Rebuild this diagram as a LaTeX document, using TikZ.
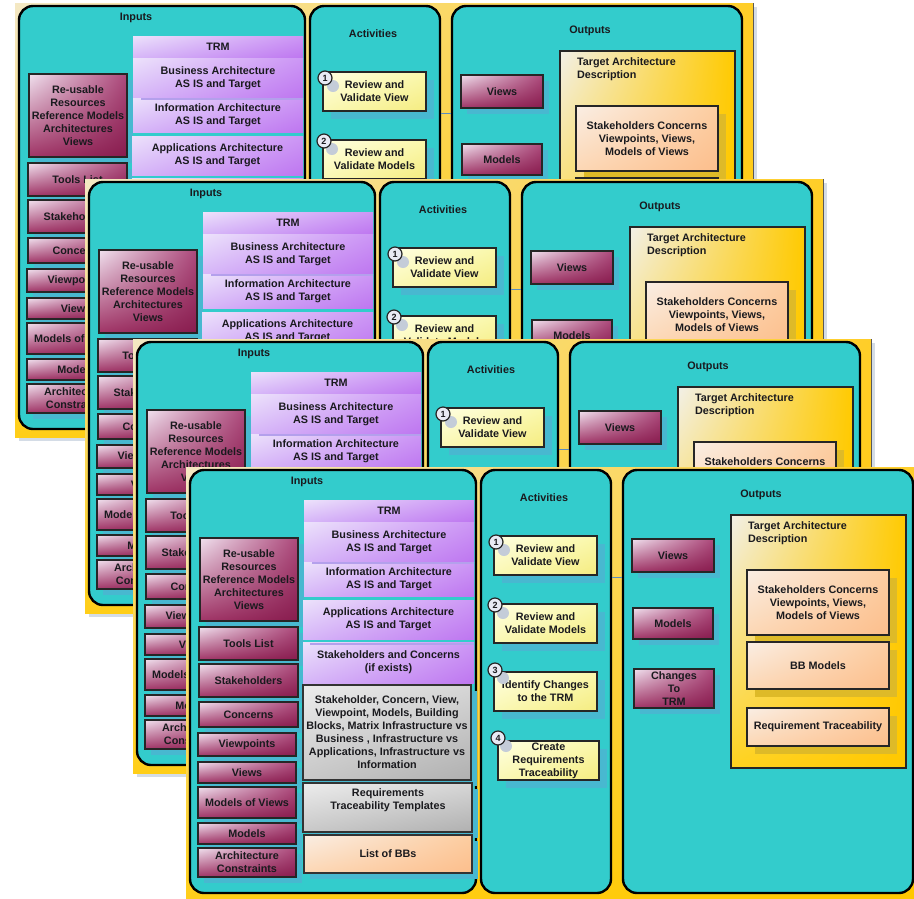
\documentclass[tikz,border=0pt]{standalone}
\usepackage{fontspec}
\setmainfont{Liberation Sans}
\usetikzlibrary{shadows,shadings}
\definecolor{tealbg}{RGB}{51,204,204}
\definecolor{shteal}{RGB}{72,184,208}
\definecolor{shgold}{RGB}{222,186,40}
\definecolor{framesh}{RGB}{212,220,230}
\definecolor{frUL}{RGB}{244,232,196}
\definecolor{frUR}{RGB}{255,206,40}
\definecolor{frLL}{RGB}{255,206,24}
\definecolor{frLR}{RGB}{255,200,0}
\definecolor{magUL}{RGB}{240,225,238}
\definecolor{magUR}{RGB}{172,72,122}
\definecolor{magLL}{RGB}{160,52,102}
\definecolor{magLR}{RGB}{136,28,78}
\definecolor{purUL}{RGB}{236,226,251}
\definecolor{purUR}{RGB}{204,150,245}
\definecolor{purLL}{RGB}{214,182,248}
\definecolor{purLR}{RGB}{190,118,240}
\definecolor{purline}{RGB}{180,160,236}
\definecolor{gryUL}{RGB}{236,236,236}
\definecolor{gryUR}{RGB}{214,214,214}
\definecolor{gryLL}{RGB}{200,200,200}
\definecolor{gryLR}{RGB}{176,176,176}
\definecolor{pchUL}{RGB}{250,238,228}
\definecolor{pchUR}{RGB}{252,205,160}
\definecolor{pchLL}{RGB}{252,215,180}
\definecolor{pchLR}{RGB}{252,190,140}
\definecolor{yelUL}{RGB}{255,255,226}
\definecolor{yelUR}{RGB}{250,248,172}
\definecolor{yelLL}{RGB}{250,248,180}
\definecolor{yelLR}{RGB}{245,236,128}
\definecolor{tadUL}{RGB}{242,240,232}
\definecolor{tadUR}{RGB}{255,202,0}
\definecolor{tadLL}{RGB}{255,210,30}
\definecolor{tadLR}{RGB}{255,200,0}
\definecolor{numfill}{RGB}{232,234,244}
\definecolor{glowc}{RGB}{196,204,216}
\definecolor{linkc}{RGB}{90,140,190}
\definecolor{txtc}{RGB}{26,26,30}
\tikzset{
  txt/.style={font=\fontsize{10.8}{13}\selectfont\bfseries, text=txtc, align=center, inner sep=0pt, outer sep=0pt},
  framebox/.style={inner sep=0pt, outer sep=0pt, upper left=frUL, upper right=frUR, lower left=frLL, lower right=frLR,
     drop shadow={shadow xshift=4pt, shadow yshift=-4pt, fill=framesh, opacity=1}},
  panelbox/.style={inner sep=0pt, outer sep=0pt, draw=black, line width=2.4pt, rounded corners=14pt, fill=tealbg},
  magbox/.style={txt, draw=black!85, line width=1.8pt, upper left=magUL, upper right=magUR, lower left=magLL, lower right=magLR,
     drop shadow={shadow xshift=6pt, shadow yshift=-6pt, fill=shteal, opacity=1}},
  purbox/.style={txt, upper left=purUL, upper right=purUR, lower left=purLL, lower right=purLR},
  graybox/.style={txt, draw=black!80, line width=1.8pt, upper left=gryUL, upper right=gryUR, lower left=gryLL, lower right=gryLR,
     drop shadow={shadow xshift=6pt, shadow yshift=-6pt, fill=shteal, opacity=1}},
  peachbox/.style={txt, draw=black!80, line width=1.8pt, upper left=pchUL, upper right=pchUR, lower left=pchLL, lower right=pchLR,
     drop shadow={shadow xshift=6pt, shadow yshift=-6pt, fill=shteal, opacity=1}},
  peachboxg/.style={txt, draw=black!85, line width=1.8pt, upper left=pchUL, upper right=pchUR, lower left=pchLL, lower right=pchLR,
     drop shadow={shadow xshift=8pt, shadow yshift=-8pt, fill=shgold, opacity=1}},
  yelbox/.style={txt, draw=black!85, line width=1.8pt, upper left=yelUL, upper right=yelUR, lower left=yelLL, lower right=yelLR,
     drop shadow={shadow xshift=8pt, shadow yshift=-8pt, fill=shteal, opacity=1}},
  tadbox/.style={txt, draw=black!85, line width=1.8pt, upper left=tadUL, upper right=tadUR, lower left=tadLL, lower right=tadLR},
  numc/.style={circle, draw=black!85, line width=1.2pt, fill=numfill, minimum size=14pt, inner sep=0pt,
     font=\fontsize{9}{9}\selectfont\bfseries, text=txtc},
  glow/.style={circle, fill=glowc, minimum size=12pt, inner sep=0pt},
  linkline/.style={draw=linkc, line width=0.8pt},
  purshade/.style={draw=purline, line width=2pt}
}
\newcommand{\bx}[7]{%
  \pgfmathsetmacro\bxw{#5-#3}\pgfmathsetmacro\bxh{#6-#4}%
  \pgfmathsetmacro\bxx{(#3+#5)/2}\pgfmathsetmacro\bxy{(#4+#6)/2}%
  \node[#2, minimum width=\bxw pt, minimum height=\bxh pt] (#1) at (\bxx,\bxy) {#7};}
\newcommand{\onepanel}[3]{%
\begin{scope}[shift={(#1,#2)}, name prefix=#3-]
  \bx{frame}{framebox}{186}{467}{924}{901}{}
  \draw[black!65, line width=1pt] (frame.north east) -- (frame.south east);
  \bx{inputs}{panelbox}{190}{470}{476}{893}{}
  \bx{acts}{panelbox}{481}{470}{611}{893}{}
  \bx{outs}{panelbox}{623}{470}{913}{893}{}
  \coordinate (lnA) at (612,577);
  \coordinate (lnB) at (622,577);
  \draw[linkline] (lnA) -- (lnB);
  \node[txt] (inlbl) at (307,482) {Inputs};
  \node[txt] (actlbl) at (544,498) {Activities};
  \node[txt] (outlbl) at (761,495) {Outputs};
  % inputs, left column
  \bx{reuse}{magbox}{200}{538}{298}{621}{Re-usable\\Resources\\Reference Models\\Architectures\\Views}
  \bx{tools}{magbox}{199}{627}{298}{660}{Tools List}
  \bx{stake}{magbox}{199}{664}{298}{697}{Stakeholders}
  \bx{conc}{magbox}{199}{702}{298}{727}{Concerns}
  \bx{vpts}{magbox}{198}{733}{296}{756}{Viewpoints}
  \bx{views}{magbox}{198}{762}{296}{783}{Views}
  \bx{mov}{magbox}{198}{787}{296}{818}{Models of Views}
  \bx{models}{magbox}{198}{823}{296}{844}{Models}
  \bx{archc}{magbox}{198}{848}{296}{877}{Architecture\\Constraints}
  % inputs, TRM column
  \bx{trm}{purbox}{304}{500}{474}{522}{TRM}
  \bx{bus}{purbox}{304}{522}{474}{562}{Business Architecture\\AS IS and Target}
  \bx{info}{purbox}{304}{562}{474}{596}{Information Architecture\\AS IS and Target}
  \coordinate (plA) at (312,563);
  \coordinate (plB) at (474,563);
  \draw[purshade] (plA) -- (plB);
  \bx{apps}{purbox}{303}{600}{474}{639}{Applications Architecture\\AS IS and Target}
  \bx{scx}{purbox}{303}{642}{474}{683}{Stakeholders and Concerns\\(if exists)}
  \coordinate (pqA) at (310,643.5);
  \coordinate (pqB) at (474,643.5);
  \draw[purshade] (pqA) -- (pqB);
  \bx{grayb}{graybox}{303}{685}{471}{780}{Stakeholder, Concern, View,\\Viewpoint, Models, Building\\Blocks, Matrix Infrastructure vs\\Business , Infrastructure vs\\Applications, Infrastructure vs\\Information}
  \bx{rtt}{graybox}{303}{783}{472}{832}{}
  \node[txt] (rttl) at (388,800.5) {Requirements\\Traceability Templates};
  \bx{lbb}{peachbox}{304}{835}{472}{873}{List of BBs}
  % activities
  \bx{act1}{yelbox}{494}{536}{597}{575}{Review and\\Validate View}
  \bx{act2}{yelbox}{494}{604}{597}{643}{Review and\\Validate Models}
  \bx{act3}{yelbox}{494}{672}{597}{711}{Identify Changes\\to the TRM}
  \bx{act4}{yelbox}{498}{741}{599}{780}{Create\\Requirements\\Traceability}
  \node[glow] (g1) at (504,550) {};
  \node[glow] (g2) at (503,613) {};
  \node[glow] (g3) at (503,678) {};
  \node[glow] (g4) at (506,746) {};
  \node[numc] (n1) at (496,542) {1};
  \node[numc] (n2) at (495,605) {2};
  \node[numc] (n3) at (495,670) {3};
  \node[numc] (n4) at (498,738) {4};
  % outputs
  \bx{oviews}{magbox}{632}{539}{714}{572}{Views}
  \bx{omodels}{magbox}{633}{608}{713}{639}{Models}
  \bx{ochg}{magbox}{634}{669}{714}{708}{Changes\\To\\TRM}
  \bx{tad}{tadbox}{731}{515}{906}{768}{}
  \node[txt, align=left, anchor=west] (tadl) at (748,533.5) {Target Architecture\\Description};
  \bx{osc}{peachboxg}{747}{570}{889}{635}{Stakeholders Concerns\\Viewpoints, Views,\\Models of Views}
  \bx{obb}{peachboxg}{747}{642}{889}{689}{BB Models}
  \bx{ort}{peachboxg}{747}{708}{889}{746}{Requirement Traceability}
\end{scope}}
\begin{document}
\begin{tikzpicture}[x=1pt,y=-1pt]
  \useasboundingbox (0,0) rectangle (914,898);
  \clip (0,0) rectangle (914,898);
  \fill[white] (0,0) rectangle (914,898);
  \onepanel{-171}{-464}{a}
  \onepanel{-101}{-288}{b}
  \onepanel{-53}{-128}{c}
  \onepanel{0}{0}{d}
\end{tikzpicture}
\end{document}
